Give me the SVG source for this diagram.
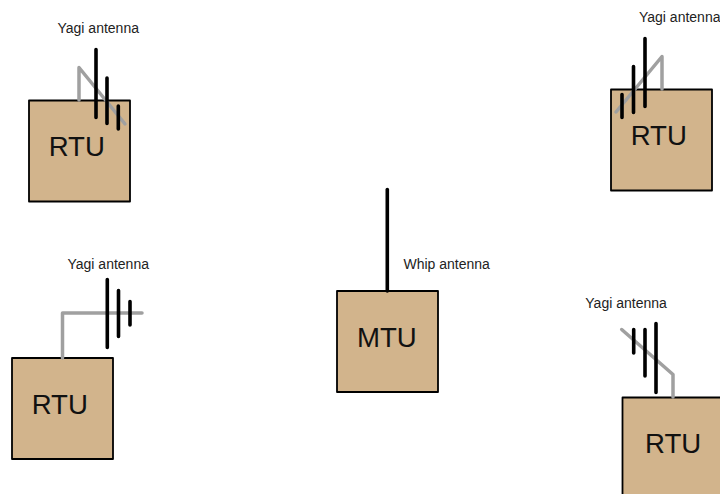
<svg xmlns="http://www.w3.org/2000/svg" width="720" height="494" viewBox="0 0 720 494">
<style>
text{font-family:"Liberation Sans",Arial,sans-serif;fill:#111}
.box{fill:#d2b48c;stroke:#000;stroke-width:1.8;stroke-linejoin:round}
.name{font-size:27.6px}
.lab{font-size:14px;fill:#222}
.feed{fill:none;stroke:#a0a0a0;stroke-width:3.5;stroke-linejoin:round;stroke-linecap:round}
.el{fill:none;stroke:#000;stroke-width:3.6;stroke-linecap:round}
</style>
<g id="rtu-top-left">
<rect class="box" x="29" y="100.5" width="101" height="101"/>
<text class="name" x="48.7" y="156">RTU</text>
<text class="lab" x="57.5" y="33">Yagi antenna</text>
</g>
<g id="rtu-top-right">
<rect class="box" x="611" y="89.5" width="101" height="101"/>
<text class="name" x="630.7" y="144.5">RTU</text>
<text class="lab" x="639" y="22">Yagi antenna</text>
</g>
<g id="rtu-left">
<rect class="box" x="12" y="358" width="101" height="101"/>
<text class="name" x="31.7" y="413.5">RTU</text>
<text class="lab" x="67.5" y="269">Yagi antenna</text>
</g>
<g id="rtu-bottom-right">
<rect class="box" x="622.5" y="397.5" width="101" height="101"/>
<text class="name" x="645" y="453">RTU</text>
<text class="lab" x="585.3" y="308">Yagi antenna</text>
</g>
<g id="mtu">
<rect class="box" x="337" y="291" width="101" height="101"/>
<text class="name" x="357" y="347">MTU</text>
<text class="lab" x="403.5" y="269">Whip antenna</text>
</g>
<g id="connectors">
<path class="feed" d="M79 100V67.5L125 124"/>
<path class="el" d="M96 49.5V117.5M107 78V123.5M118.3 106V129"/>
<path class="feed" d="M662 89V56.5L616 112"/>
<path class="el" d="M645 38.5V106.5M633.5 66.5V112.5M622 94.5V117.5"/>
<path class="feed" d="M62.5 358V313H142"/>
<path class="el" d="M107.3 279.5V347.5M118.5 290.5V336.5M130 301.5V325"/>
<path class="feed" d="M673 397V374.5L621.7 329.5"/>
<path class="el" d="M656 323.5V392.5M645 329.5V376M633.7 329.5V353"/>
<path class="el" d="M387.3 189.5V291"/>
</g>
</svg>
